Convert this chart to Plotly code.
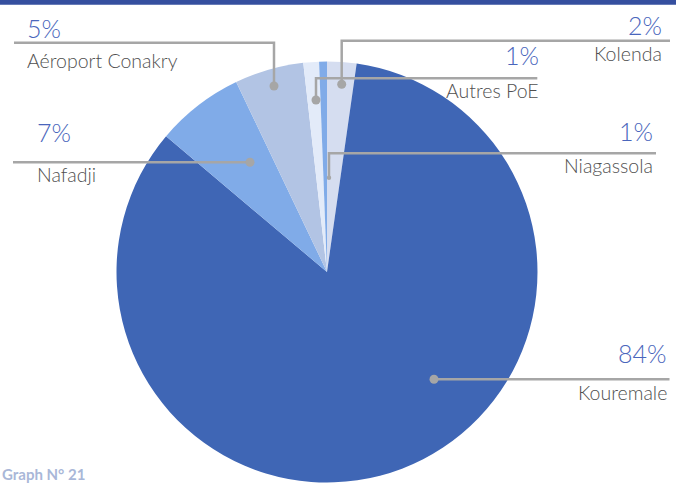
import plotly.graph_objects as go

# ---- data ----
labels = ["Kolenda", "Kouremale", "Nafadji", "Aéroport Conakry", "Autres PoE", "Niagassola"]
values = [2.25, 83.9, 6.75, 5.3, 1.2, 0.6]
pct_labels = ["2%", "84%", "7%", "5%", "1%", "1%"]
slice_colors = ["#D5DDF0", "#3F66B5", "#80ABE8", "#B2C4E4", "#E3EBF9", "#80ABE8"]

W, H = 687, 483
FONT = "Lato, 'Open Sans', sans-serif"
PCT_COLOR = "#4A66BC"
NAME_COLOR = "#505050"
LINE_COLOR = "#A6A6A6"

# callout layout (pixel space, y down): dot, elbow, line end, text anchors
callouts = {
    "Kolenda":          dict(dot=(341.7, 84.3), path=[(341.7, 40.7), (670, 40.7)], align="right", tx=664, py=25, ny=53.3, r=4.5),
    "Kouremale":        dict(dot=(434, 379.3), path=[(669.5, 379.3)], align="right", tx=669, py=352.5, ny=392.5, r=4.5),
    "Nafadji":          dict(dot=(250, 162.3), path=[(13, 162.3)], align="left", tx=35, py=131.7, ny=174.2, r=4.5),
    "Aéroport Conakry": dict(dot=(274, 86), path=[(274, 42.7), (14, 42.7)], align="left", tx=25, py=27.5, ny=60.8, r=4.5),
    "Autres PoE":       dict(dot=(316, 100), path=[(316, 78.3), (537.3, 78.3)], align="right", tx=541, py=54.5, ny=90.8, r=4.5),
    "Niagassola":       dict(dot=(329, 177.7), path=[(329, 153.3), (656, 153.3)], align="right", tx=655, py=131, ny=165.8, r=2.2),
}

# pie geometry (pixels)
cx, cy, rad = 327, 272, 210.5

fig = go.Figure()
fig.add_trace(go.Pie(
    labels=labels, values=values, sort=False, direction="clockwise", rotation=0,
    marker=dict(colors=slice_colors, line=dict(width=0)),
    textinfo="none", hoverinfo="label+percent", showlegend=False,
    domain=dict(x=[(cx - rad) / W, (cx + rad) / W], y=[1 - (cy + rad) / H, 1 - (cy - rad) / H]),
))
# invisible helper trace so the pixel-space overlay axes exist
fig.add_trace(go.Scatter(x=[0, W], y=[0, H], mode="markers", hoverinfo="skip",
                         showlegend=False, marker=dict(opacity=0)))

shapes = []
annotations = []
for lab, pct in zip(labels, pct_labels):
    c = callouts[lab]
    pts = [c["dot"]] + c["path"]
    d = "M " + " L ".join(f"{x},{y}" for x, y in pts)
    shapes.append(dict(type="path", path=d, xref="x", yref="y",
                       line=dict(color=LINE_COLOR, width=2.5)))
    (px, py), r = c["dot"], c["r"]
    shapes.append(dict(type="circle", xref="x", yref="y", x0=px - r, x1=px + r,
                       y0=py - r, y1=py + r, fillcolor=LINE_COLOR, line=dict(width=0)))
    xanchor = c["align"]
    annotations.append(dict(x=c["tx"], y=c["py"], xref="x", yref="y", text=pct,
                            showarrow=False, xanchor=xanchor, yanchor="middle",
                            font=dict(family=FONT, size=25, color=PCT_COLOR, weight=300)))
    annotations.append(dict(x=c["tx"], y=c["ny"], xref="x", yref="y", text=lab,
                            showarrow=False, xanchor=xanchor, yanchor="middle",
                            font=dict(family=FONT, size=19.5, color=NAME_COLOR, weight=300)))

# top band
shapes.append(dict(type="rect", xref="x", yref="y", x0=0, x1=676, y0=0, y1=4.7,
                   fillcolor="#354F9F", line=dict(width=0), layer="above"))

annotations.append(dict(x=0, y=463, xref="x", yref="y", text="<b>Graph N° 21</b>",
                        showarrow=False, xanchor="left", yanchor="top",
                        font=dict(family=FONT, size=15, color="#A9B7D8")))

fig.update_layout(
    width=W, height=H, margin=dict(l=0, r=0, t=0, b=0),
    paper_bgcolor="white", plot_bgcolor="rgba(0,0,0,0)",
    xaxis=dict(range=[0, W], visible=False, fixedrange=True, domain=[0, 1]),
    yaxis=dict(range=[H, 0], visible=False, fixedrange=True, domain=[0, 1]),
    shapes=shapes, annotations=annotations,
)

fig.write_html("out.html", config={"displayModeBar": False},
               post_script="document.body.style.margin='0';document.body.style.overflow='hidden';")
